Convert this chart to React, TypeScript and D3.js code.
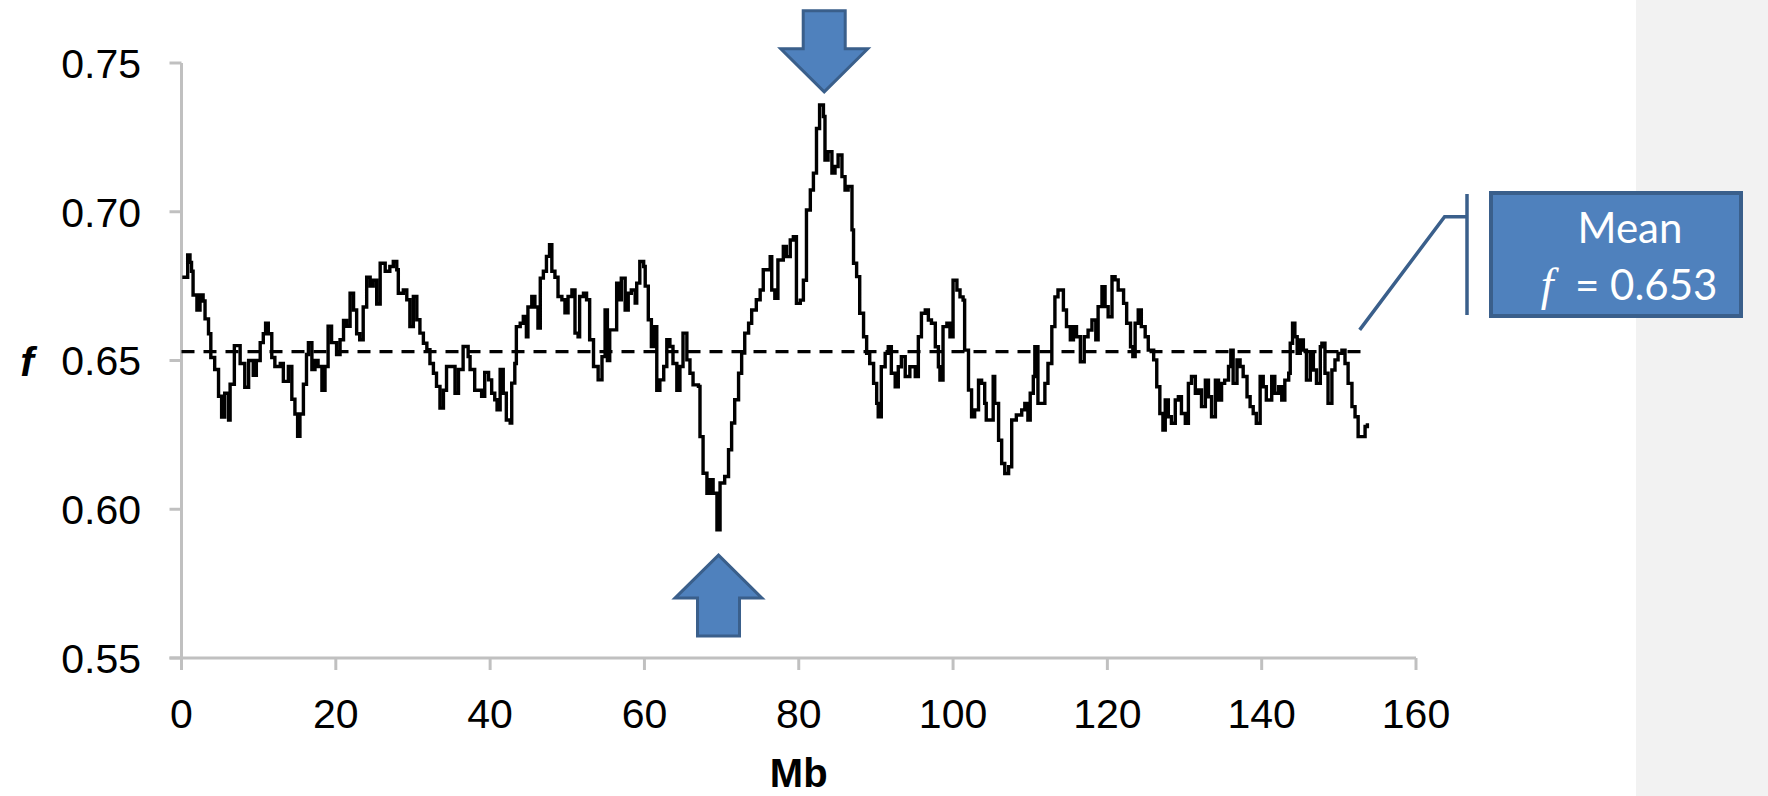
import React from 'react';
import * as d3 from 'd3';

const W = 1768;
const H = 796;
const MARGIN = { left: 181.5, right: 1416, top: 63, bottom: 658 };

// position along the chromosome (Mb) and f at that position
const MB_POS = [
  0.1, 0.8, 1.1, 1.3, 1.5, 2.0, 2.4, 2.8, 3.05, 3.5, 3.8, 4.3, 4.8, 5.2, 5.6, 6.1, 6.3, 6.85, 7.15, 7.6,
  8.2, 8.7, 9.3, 9.7, 10.2, 10.6, 10.9, 11.25, 11.7, 12.1, 12.8, 13.2, 13.85, 14.3, 14.7, 15.05, 15.35, 15.8, 16.2, 16.45,
  16.9, 17.3, 17.7, 18.2, 18.6, 19.0, 19.45, 20.1, 20.55, 21.0, 21.4, 21.85, 22.3, 22.7, 23.1, 23.55, 24.0, 24.45, 24.85, 25.3,
  25.75, 26.4, 27.0, 27.45, 27.9, 28.1, 28.75, 29.2, 29.6, 30.05, 30.5, 30.9, 31.35, 31.8, 32.2, 32.65, 33.05, 33.5, 33.95, 34.35,
  35.0, 35.45, 35.9, 36.5, 37.15, 37.4, 38.0, 38.9, 39.3, 39.8, 40.2, 40.6, 40.9, 41.3, 41.7, 42.1, 42.6, 42.8, 43.2, 43.4,
  43.9, 44.3, 44.7, 44.9, 45.4, 45.8, 46.2, 46.5, 46.9, 47.3, 47.7, 48.0, 48.4, 48.8, 49.3, 49.7, 50.1, 50.6, 51.0, 51.4,
  51.6, 52.1, 52.5, 52.9, 53.4, 54.0, 54.5, 54.9, 55.2, 55.5, 56.0, 56.4, 56.8, 57.0, 57.5, 57.9, 58.3, 58.8, 59.0, 59.4,
  59.9, 60.1, 60.5, 60.9, 61.2, 61.6, 62.0, 62.5, 62.9, 63.3, 63.7, 64.2, 64.6, 65.0, 65.5, 65.9, 66.3, 67.0, 67.2, 67.6,
  68.1, 68.5, 68.9, 69.4, 69.8, 70.4, 70.9, 71.3, 71.7, 72.2, 72.6, 73.0, 73.5, 73.9, 74.5, 75.0, 75.4, 76.3, 76.5, 76.9,
  77.3, 78.0, 78.4, 78.9, 79.3, 79.7, 80.2, 80.6, 81.0, 81.5, 81.9, 82.3, 82.7, 83.2, 83.4, 83.8, 84.3, 84.7, 85.1, 85.6,
  86.0, 86.4, 86.9, 87.1, 87.5, 87.9, 88.4, 88.8, 89.2, 89.7, 90.1, 90.3, 90.7, 91.2, 91.6, 92.0, 92.5, 92.9, 93.3, 93.8,
  94.4, 95.1, 95.5, 95.9, 96.4, 96.8, 97.2, 97.7, 98.1, 98.3, 98.7, 99.2, 99.6, 100.0, 100.5, 100.9, 101.3, 101.5, 102.0, 102.4,
  102.8, 103.3, 103.7, 104.1, 104.3, 104.8, 105.2, 105.4, 105.9, 106.3, 106.7, 107.2, 107.6, 108.2, 108.9, 109.3, 109.7, 110.0, 110.4, 110.6,
  111.0, 111.5, 111.9, 112.3, 112.8, 113.2, 113.6, 114.3, 114.7, 115.2, 115.6, 116.0, 116.5, 117.0, 117.5, 118.0, 118.5, 118.8, 119.3, 119.7,
  120.1, 120.6, 121.0, 121.4, 122.1, 122.5, 123.0, 123.3, 123.6, 124.0, 124.4, 124.9, 125.3, 126.0, 126.4, 126.8, 127.2, 127.5, 127.9, 128.3,
  128.8, 129.2, 129.6, 130.1, 130.5, 130.9, 131.4, 131.8, 132.2, 132.7, 133.1, 133.5, 134.0, 134.4, 134.8, 135.2, 135.7, 136.0, 136.3, 136.8,
  137.2, 137.6, 138.1, 138.5, 138.9, 139.3, 139.8, 140.2, 140.6, 141.3, 141.7, 142.2, 142.6, 143.0, 143.5, 143.7, 144.0, 144.3, 144.6, 145.0,
  145.4, 145.8, 146.3, 146.7, 147.1, 147.6, 147.8, 148.2, 148.6, 149.1, 149.5, 149.9, 150.4, 150.8, 151.2, 151.7, 152.1, 152.5, 152.9, 153.4,
  153.7,
];

const F_VALUES = [
  0.678, 0.6855, 0.683, 0.680, 0.672, 0.667, 0.672, 0.670, 0.664, 0.659, 0.651, 0.647, 0.638, 0.631, 0.639, 0.630, 0.642, 0.655, 0.655, 0.649,
  0.641, 0.650, 0.645, 0.650, 0.656, 0.659, 0.6625, 0.659, 0.651, 0.648, 0.649, 0.643, 0.648, 0.637, 0.632, 0.6245, 0.632, 0.642, 0.652, 0.656,
  0.647, 0.650, 0.648, 0.640, 0.648, 0.6615, 0.656, 0.652, 0.657, 0.6635, 0.6615, 0.6726, 0.667, 0.659, 0.657, 0.668, 0.678, 0.675, 0.677, 0.669,
  0.6827, 0.680, 0.6816, 0.6833, 0.6805, 0.6726, 0.6737, 0.6704, 0.6614, 0.6715, 0.6637, 0.6592, 0.6558, 0.6536, 0.649, 0.6457, 0.6413, 0.634, 0.640, 0.648,
  0.648, 0.639, 0.647, 0.6547, 0.6513, 0.647, 0.640, 0.638, 0.646, 0.6435, 0.639, 0.6368, 0.6334, 0.647, 0.639, 0.630, 0.629, 0.6424, 0.649, 0.6614,
  0.6625, 0.6648, 0.658, 0.668, 0.6715, 0.668, 0.6609, 0.6777, 0.680, 0.685, 0.6889, 0.680, 0.678, 0.6715, 0.6704, 0.666, 0.6715, 0.6737, 0.6592, 0.658,
  0.6715, 0.6726, 0.6704, 0.657, 0.648, 0.6435, 0.6513, 0.667, 0.650, 0.6603, 0.6603, 0.676, 0.6704, 0.6777, 0.667, 0.6726, 0.6737, 0.6693, 0.676, 0.6833,
  0.6816, 0.675, 0.6637, 0.6547, 0.6614, 0.640, 0.6435, 0.648, 0.657, 0.6547, 0.649, 0.640, 0.648, 0.6592, 0.6502, 0.6457, 0.6418, 0.6413, 0.6244, 0.6121,
  0.6054, 0.6099, 0.6054, 0.5931, 0.6088, 0.611, 0.620, 0.629, 0.6368, 0.6457, 0.6525, 0.6592, 0.6625, 0.667, 0.6704, 0.6737, 0.6805, 0.6849, 0.6737, 0.6709,
  0.6838, 0.6883, 0.6849, 0.6905, 0.6916, 0.6692, 0.6703, 0.677, 0.7006, 0.7073, 0.713, 0.728, 0.7359, 0.732, 0.7174, 0.7202, 0.713, 0.7152, 0.7191, 0.7118,
  0.7073, 0.7085, 0.6939, 0.6827, 0.6782, 0.6659, 0.658, 0.6524, 0.649, 0.6423, 0.6356, 0.6311, 0.6479, 0.6524, 0.6546, 0.6457, 0.6412, 0.6479, 0.6513, 0.6446,
  0.6479, 0.6446, 0.658, 0.6659, 0.667, 0.6636, 0.6625, 0.6546, 0.6479, 0.6434, 0.6614, 0.6625, 0.658, 0.677, 0.6737, 0.6714, 0.6703, 0.6535, 0.6401, 0.6311,
  0.6334, 0.6434, 0.6423, 0.6356, 0.630, 0.630, 0.6446, 0.6356, 0.6232, 0.6154, 0.612, 0.6143, 0.630, 0.6317, 0.6334, 0.6356, 0.630, 0.639, 0.6446, 0.6546,
  0.6356, 0.6356, 0.6423, 0.649, 0.6614, 0.6714, 0.6737, 0.667, 0.6614, 0.657, 0.6614, 0.658, 0.6496, 0.658, 0.6602, 0.6636, 0.657, 0.6681, 0.6748, 0.6681,
  0.6647, 0.6782, 0.6771, 0.6737, 0.6692, 0.6625, 0.6546, 0.6513, 0.6625, 0.667, 0.6614, 0.658, 0.6535, 0.6502, 0.6412, 0.6322, 0.6266, 0.6367, 0.6311, 0.6289,
  0.6367, 0.6378, 0.6322, 0.6289, 0.6423, 0.6446, 0.639, 0.6401, 0.6345, 0.6434, 0.6378, 0.6311, 0.6434, 0.6367, 0.6423, 0.6434, 0.648, 0.6535, 0.6423, 0.6502,
  0.648, 0.6446, 0.6378, 0.6345, 0.6322, 0.6289, 0.6446, 0.6412, 0.6367, 0.6446, 0.639, 0.6412, 0.6367, 0.6434, 0.6457, 0.6558, 0.6625, 0.658, 0.6524, 0.6569,
  0.6535, 0.6434, 0.6524, 0.6468, 0.6423, 0.6546, 0.6558, 0.6457, 0.6356, 0.6468, 0.6502, 0.6524, 0.6535, 0.649, 0.6423, 0.6345, 0.6311, 0.6244, 0.6244, 0.6278,
  0.6289,
];

const MEAN_F = 0.653;
const Y_TICKS = [0.55, 0.6, 0.65, 0.7, 0.75];
const X_TICKS = [0, 20, 40, 60, 80, 100, 120, 140, 160];

// block arrows: tip position in data units
const ARROWS = [
  { mb: 83.3, f: 0.7403, dir: 'down' },
  { mb: 69.6, f: 0.5846, dir: 'up' },
];

const AXIS_COLOR = '#c0c0c0';
const ARROW_FILL = '#4f81bd';
const ARROW_STROKE = '#3a5f8b';
const FONT = '"Liberation Sans", Arial, sans-serif';

function arrowPath(tx: number, ty: number, dir: string) {
  const headW = 87, shaftW = 42, headH = 43, totalH = 81;
  const s = dir === 'down' ? -1 : 1;
  const pts = [
    [tx, ty],
    [tx + headW / 2, ty + s * headH],
    [tx + shaftW / 2, ty + s * headH],
    [tx + shaftW / 2, ty + s * totalH],
    [tx - shaftW / 2, ty + s * totalH],
    [tx - shaftW / 2, ty + s * headH],
    [tx - headW / 2, ty + s * headH],
  ];
  return 'M' + pts.map(p => p.join(',')).join('L') + 'Z';
}

export default function App() {
  const x = d3.scaleLinear().domain([0, 160]).range([MARGIN.left, MARGIN.right]);
  const y = d3.scaleLinear().domain([0.55, 0.75]).range([MARGIN.bottom, MARGIN.top]);

  const data = MB_POS.map((mb, i) => ({ mb, f: F_VALUES[i] }));
  const line = d3.line<{ mb: number; f: number }>()
    .x(d => x(d.mb))
    .y(d => y(d.f))
    .curve(d3.curveStepAfter);

  const lastMb = MB_POS[MB_POS.length - 1];
  const fmt = d3.format('.2f');

  // leader line of the mean callout, starting near the end of the dashed line
  const lx = x(152.7), ly = y(0.6603);

  return (
    <div style={{ position: 'absolute', left: 0, top: 0 }}>
      <svg width={W} height={H} style={{ display: 'block', background: '#fff' }}>
        <rect x={1636} y={0} width={W - 1636} height={H} fill="#f2f2f2" />

        {/* y axis */}
        <line x1={x(0)} x2={x(0)} y1={y(0.55)} y2={y(0.75)} stroke={AXIS_COLOR} strokeWidth={3} />
        {Y_TICKS.map(t => (
          <g key={t}>
            <line x1={x(0) - 12} x2={x(0)} y1={y(t)} y2={y(t)} stroke={AXIS_COLOR} strokeWidth={3} />
            <text x={141} y={y(t)} dy="0.36em" textAnchor="end" fontFamily={FONT} fontSize={41} fill="#000">
              {fmt(t)}
            </text>
          </g>
        ))}

        {/* x axis */}
        <line x1={x(0) - 12} x2={x(160)} y1={y(0.55)} y2={y(0.55)} stroke={AXIS_COLOR} strokeWidth={3} />
        {X_TICKS.map(t => (
          <g key={t}>
            <line x1={x(t)} x2={x(t)} y1={y(0.55)} y2={y(0.55) + 12} stroke={AXIS_COLOR} strokeWidth={3} />
            <text x={x(t)} y={728} textAnchor="middle" fontFamily={FONT} fontSize={41} fill="#000">
              {t}
            </text>
          </g>
        ))}

        <text x={(x(0) + x(160)) / 2} y={787} textAnchor="middle" fontFamily={FONT} fontSize={40} fontWeight="bold" fill="#000">
          Mb
        </text>
        <text x={27} y={376} textAnchor="middle" fontFamily={FONT} fontSize={41} fontWeight="bold" fontStyle="italic" fill="#000">
          f
        </text>

        {/* mean */}
        <line x1={x(0)} x2={x(lastMb)} y1={y(MEAN_F)} y2={y(MEAN_F)} stroke="#000" strokeWidth={3.2} strokeDasharray="13,9" />

        <path d={line(data) || ''} fill="none" stroke="#000" strokeWidth={3.4} strokeLinejoin="miter" />

        {ARROWS.map((a, i) => (
          <path key={i} d={arrowPath(x(a.mb), y(a.f), a.dir)} fill={ARROW_FILL} stroke={ARROW_STROKE} strokeWidth={3} strokeLinejoin="miter" />
        ))}

        {/* callout */}
        <polyline points={`${lx},${ly} 1444.6,216.7 1467,216.7`} fill="none" stroke={ARROW_STROKE} strokeWidth={3.5} />
        <line x1={1467} x2={1467} y1={194} y2={315} stroke={ARROW_STROKE} strokeWidth={3.5} />
        <rect x={1491} y={193} width={250} height={123} fill={ARROW_FILL} stroke={ARROW_STROKE} strokeWidth={4} />
        <text x={1630} y={243} textAnchor="middle" fontFamily="Lato, 'Open Sans', sans-serif" fontSize={42} fill="#fff">
          Mean
        </text>
        <text x={1629} y={300} textAnchor="middle" fontFamily="Lato, 'Open Sans', sans-serif" fontSize={42} fill="#fff">
          <tspan fontFamily="'Liberation Serif', serif" fontStyle="italic" fontSize={46}>f</tspan>
          <tspan>{'\u00a0 = 0.653'}</tspan>
        </text>
      </svg>
    </div>
  );
}
